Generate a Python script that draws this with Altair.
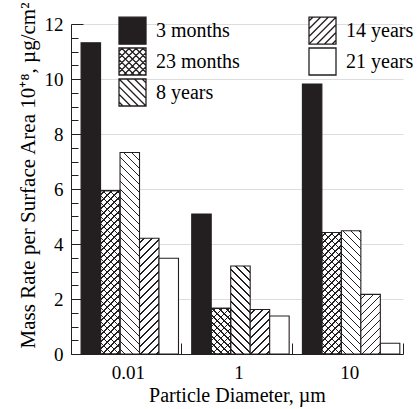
import altair as alt

# ---------------- data ----------------
groups = ["0.01", "1", "10"]
series = ["3 months", "23 months", "8 years", "14 years", "21 years"]
v_3m = [11.32, 5.09, 9.82]
v_23m = [5.94, 1.66, 4.42]
v_8y = [7.33, 3.20, 4.48]
v_14y = [4.21, 1.62, 2.17]
v_21y = [3.48, 1.38, 0.39]
values_by_series = [v_3m, v_23m, v_8y, v_14y, v_21y]

y_labels = [0, 2, 4, 6, 8, 10, 12]
y_ticks = [0, 0.5, 1, 1.5, 2, 2.5, 3, 3.5, 4, 4.5, 5, 5.5, 6, 6.5,
           7, 7.5, 8, 8.5, 9, 9.5, 10, 10.5, 11, 11.5, 12]

# ---------------- style / layout ----------------
W, H = 332, 330
YMAX = 12
INK = "#231f20"
FONT = "Liberation Serif"
PAD_OUT = 0.34
BW = (W / len(groups)) / (len(series) + 2 * PAD_OUT)   # bar pixel width


def stripe(w, h, direction, period, lw, bg, fg):
    """Linear gradient that imitates diagonal hatching on a w x h rect."""
    L = w + h
    k = L / (w * w + h * h)
    if direction == "/":
        x1, y1, x2, y2 = 0, 0, k * w, k * h
    else:
        x1, y1, x2, y2 = 0, 1, k * w, 1 - k * h
    stops = [{"offset": 0, "color": bg}]
    c = period * 0.5
    while c < L:
        a = round(c / L, 5)
        b = round(min((c + lw) / L, 1), 5)
        stops += [{"offset": a, "color": bg}, {"offset": a, "color": fg},
                  {"offset": b, "color": fg}, {"offset": b, "color": bg}]
        c += period
    stops.append({"offset": 1, "color": bg})
    return {"gradient": "linear", "x1": round(x1, 5), "y1": round(y1, 5),
            "x2": round(x2, 5), "y2": round(y2, 5), "stops": stops}


CLEAR = "rgba(255,255,255,0)"
records = []
for s, vals in zip(series, values_by_series):
    for g, v in zip(groups, vals):
        h = max(v * H / YMAX, 1)
        rec = {"group": g, "series": s, "value": v}
        if s == "3 months":
            rec["pat"] = INK
        elif s == "23 months":
            rec["pat"] = stripe(BW, h, "/", 7, 1.4, "white", INK)
            rec["pat2"] = stripe(BW, h, "\\", 7, 1.4, CLEAR, INK)
        elif s == "8 years":
            rec["pat"] = stripe(BW, h, "\\", 8, 1.5, "white", INK)
        elif s == "14 years":
            rec["pat"] = stripe(BW, h, "/", 8, 1.5, "white", INK)
        else:
            rec["pat"] = "white"
        records.append(rec)


# legend symbol paths (unit square -1..1)
def fmt(v):
    return f"{v:.3f}".rstrip("0").rstrip(".")


def hatch_path(direction, step):
    parts = []
    c = -2 + step / 2
    while c < 2:
        if direction == "/":
            xs, xe = max(-1, c - 1), min(1, c + 1)
            p0, p1 = (xs, c - xs), (xe, c - xe)
        else:
            xs, xe = max(-1, -1 - c), min(1, 1 - c)
            p0, p1 = (xs, xs + c), (xe, xe + c)
        parts.append(f"M{fmt(p0[0])},{fmt(p0[1])}L{fmt(p1[0])},{fmt(p1[1])}")
        c += step
    return "".join(parts)


SQUARE = "M-1,-1L1,-1L1,1L-1,1Z"
shape_of = {
    "3 months": SQUARE,
    "23 months": SQUARE + hatch_path("/", 0.52) + hatch_path("\\", 0.52),
    "8 years": SQUARE + hatch_path("\\", 0.57),
    "14 years": SQUARE + hatch_path("/", 0.57),
    "21 years": SQUARE,
}
fill_of = {"3 months": INK, "23 months": "white", "8 years": "white",
           "14 years": "white", "21 years": "white"}

data = alt.Data(values=records)

x_scale = alt.Scale(domain=groups, paddingInner=0, paddingOuter=0)
xo_scale = alt.Scale(domain=series, paddingInner=0, paddingOuter=PAD_OUT, align=0.76)
y_scale = alt.Scale(domain=[0, YMAX], nice=False)

# main bars with labelled axes
bars = alt.Chart(data).mark_bar(stroke=INK, strokeWidth=1.1).encode(
    x=alt.X("group:N", scale=x_scale, sort=groups,
            axis=alt.Axis(orient="bottom", title="Particle Diameter, µm",
                          labelAngle=0, ticks=False, tickSize=0, labelPadding=9,
                          labelOffset=2, titlePadding=3, domainColor=INK,
                          domainWidth=1)),
    xOffset=alt.XOffset("series:N", scale=xo_scale, sort=series),
    y=alt.Y("value:Q", scale=y_scale,
            axis=alt.Axis(orient="left",
                          title="Mass Rate per Surface Area 10⁺⁸, µg/cm²",
                          values=y_labels, ticks=False, tickSize=0,
                          labelPadding=8, titlePadding=6, titleY=151,
                          titleFontSize=21, domainColor=INK, domainWidth=1)),
    color=alt.Color("pat:N", scale=None),
)

# cross-hatch overlay + inward tick axes
cross = alt.Chart(data).transform_filter(
    "datum.series === '23 months'"
).mark_bar(stroke=INK, strokeWidth=1.1).encode(
    x=alt.X("group:N", scale=x_scale, sort=groups,
            axis=alt.Axis(orient="top", offset=-H, bandPosition=1, title=None,
                          labels=False, domain=False, ticks=True, tickSize=11,
                          tickColor=INK, tickWidth=1)),
    xOffset=alt.XOffset("series:N", scale=xo_scale, sort=series),
    y=alt.Y("value:Q", scale=y_scale,
            axis=alt.Axis(orient="right", offset=-W, title=None, values=y_ticks,
                          labels=False, domain=False, ticks=True, tickColor=INK,
                          tickWidth=1,
                          tickSize={"condition": {"test": "datum.value % 2 === 0",
                                                  "value": 12},
                                    "value": 7})),
    color=alt.Color("pat2:N", scale=None),
)

leg = alt.Legend(title=None, orient="none", legendX=47, legendY=-8, columns=2,
                 columnPadding=66, rowPadding=-2.5, symbolSize=729,
                 symbolStrokeWidth=1.3, symbolOpacity=1,
                 labelFont=FONT, labelFontSize=20, labelColor="black",
                 labelOffset=9, direction="vertical")

legend_layer = alt.Chart(data).transform_filter("false").mark_point(
    filled=True, opacity=1, size=729, strokeWidth=1.3
).encode(
    fill=alt.Fill("series:N",
                  scale=alt.Scale(domain=series,
                                  range=[fill_of[s] for s in series]),
                  legend=leg),
    stroke=alt.Stroke("series:N",
                      scale=alt.Scale(domain=series,
                                      range=[INK for s in series]),
                      legend=leg),
    shape=alt.Shape("series:N",
                    scale=alt.Scale(domain=series,
                                    range=[shape_of[s] for s in series]),
                    legend=leg),
)

chart = alt.layer(bars, cross, legend_layer).resolve_axis(
    x="independent", y="independent"
).properties(
    width=W, height=H,
    autosize=alt.AutoSizeParams(type="none"),
    padding={"left": 71, "top": 24, "right": 14, "bottom": 55},
).configure_view(stroke=None).configure_axis(
    labelFont=FONT, labelFontSize=19, labelColor="black",
    titleFont=FONT, titleFontSize=20, titleFontWeight="normal", titleColor="black",
)

chart.save("out.html", embed_options={"renderer": "svg", "actions": False})
